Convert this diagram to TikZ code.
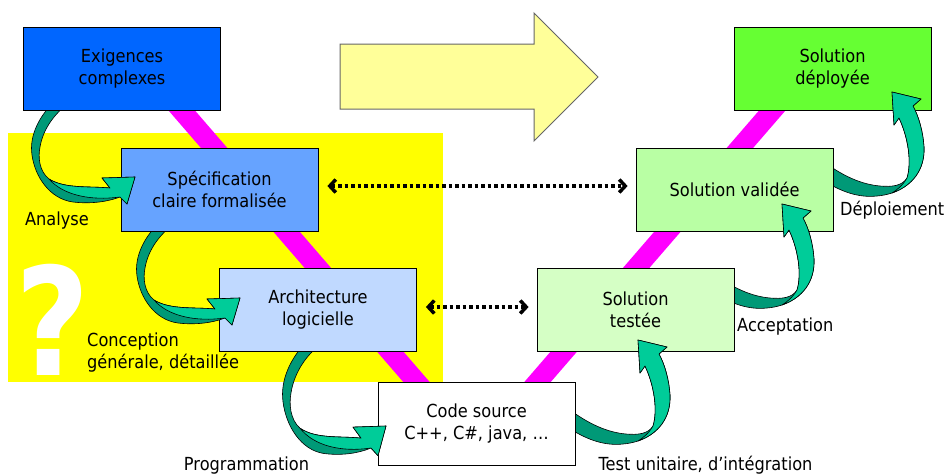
\documentclass[tikz,border=0pt]{standalone}
\usepackage{fontspec}
\setmainfont{DejaVu Sans}[FakeStretch=0.9]
\usetikzlibrary{arrows.meta}
\definecolor{cExig}{RGB}{0,102,255}
\definecolor{cSpec}{RGB}{102,163,255}
\definecolor{cArch}{RGB}{192,217,255}
\definecolor{cTest}{RGB}{213,255,197}
\definecolor{cValid}{RGB}{185,255,164}
\definecolor{cDepl}{RGB}{102,255,51}
\definecolor{cYel}{RGB}{255,255,0}
\definecolor{cBigArr}{RGB}{255,255,153}
\definecolor{cMag}{RGB}{255,0,255}
\definecolor{rDark}{RGB}{0,153,119}
\definecolor{rLight}{RGB}{0,204,153}
\tikzset{
  box/.style={draw=black, line width=0.8pt, minimum width=197pt, minimum height=83pt,
    inner sep=0pt, align=center, font=\fontsize{18}{22}\selectfont},
  lbl/.style={inner sep=0pt, font=\fontsize{18}{22}\selectfont},
  ribbon/.style={draw=black, line width=0.6pt, line join=round},
  dotarrow/.style={line width=3.5pt, dash pattern=on 3.5pt off 3pt,
    {Straight Barb[length=6pt,width=13pt]}-{Straight Barb[length=6pt,width=13pt]},
    shorten <=9pt, shorten >=8pt},
}
% ribbon arrow coming down then turning right (tip at origin)
\newcommand\ribL[1]{%
  \begin{scope}[#1]
    \filldraw[fill=rDark, ribbon] (-80,-76)
      .. controls (-95,-62) and (-106,-42) .. (-103,-22)
      .. controls (-100,0) and (-85,22) .. (-62,25)
      .. controls (-45,27) and (-28,25) .. (-15,20)
      -- (-8,27) -- (0,0) -- (-33,1) -- (-25,11)
      .. controls (-45,9) and (-70,12) .. (-86,2)
      .. controls (-96,-6) and (-97,-20) .. (-95,-30)
      .. controls (-92,-48) and (-80,-65) .. (-63,-76) -- cycle;
    \filldraw[fill=rLight, ribbon] (-86,2)
      .. controls (-70,12) and (-45,9) .. (-25,11)
      -- (-33,1) -- (0,0) -- (-8,27) -- (-15,20)
      .. controls (-45,24) and (-72,18) .. (-86,2) -- cycle;
  \end{scope}}
% ribbon arrow going right, down then up (tip at origin)
\newcommand\ribR[1]{%
  \begin{scope}[#1]
    \filldraw[fill=rDark, ribbon] (-72,86)
      .. controls (-52,100) and (-33,106) .. (-15,104)
      .. controls (-10,103.6) and (-5,102.6) .. (0,101)
      .. controls (20,94) and (33,78) .. (32,55)
      .. controls (31,40) and (27,25) .. (21,14)
      -- (29,7) -- (0,0) -- (2,33) -- (7,26)
      .. controls (16,45) and (20,70) .. (15,86)
      .. controls (10,94) and (0,95) .. (-12,94)
      .. controls (-35,92) and (-55,80) .. (-72,67) -- cycle;
    \filldraw[fill=rLight, ribbon] (0,101)
      .. controls (20,94) and (33,78) .. (32,55)
      .. controls (31,40) and (27,25) .. (21,14)
      -- (29,7) -- (0,0) -- (2,33) -- (7,26)
      .. controls (16,45) and (20,70) .. (15,86)
      .. controls (11,93) and (5,98) .. (0,101) -- cycle;
  \end{scope}}
\begin{document}
\begin{tikzpicture}[x=1pt, y=-1pt]
  \useasboundingbox (0,0) rectangle (949,475);
  \fill[white] (0,0) rectangle (949,475);
  % yellow zone
  \fill[cYel] (8,133) rectangle (443,382);
  \node[font=\fontsize{150}{150}\selectfont\bfseries, text=white, anchor=base, inner sep=0pt] (qmark) at (53,375) {\scalebox{0.95}[1]{?}};
  % big yellow arrow
  \filldraw[fill=cBigArr, draw=black!60, line width=1pt]
    (340,44) -- (534,44) -- (534,13) -- (598,77) -- (534,141) -- (534,109) -- (340,109) -- cycle;
  % magenta V
  \coordinate (vL) at (145,68);
  \coordinate (vB) at (477,452);
  \coordinate (vR) at (809,68);
  \draw[cMag, line width=20pt, line join=bevel] (vL) -- (vB) -- (vR);
  % right branch (draw order matters)
  \node[box, fill=cDepl] (depl) at (832.5,68.5) {Solution\\déployée};
  \ribR{shift={(892,92)}}
  \node[box, fill=cValid] (valid) at (734.5,189.5) {Solution validée};
  \ribR{shift={(782,204)}}
  \node[box, fill=cTest] (test) at (635.5,310) {Solution\\testée};
  \ribR{shift={(638,340)}}
  \node[box, fill=white] (code) at (476.5,424) {Code source\\C++, C\#, java, …};
  \ribL{shift={(386,426)}, yscale=1.1}
  \node[box, fill=cArch] (arch) at (318,310) {Architecture\\logicielle};
  \ribL{shift={(240,298)}}
  \node[box, fill=cSpec] (spec) at (219.5,189.5) {Spécification\\claire formalisée};
  \ribL{shift={(135,177)}}
  \node[box, fill=cExig] (exig) at (122,68.5) {Exigences\\complexes};
  % dotted double arrows
  \draw[dotarrow] ([yshift=3.5pt]spec.east) -- ([yshift=3.5pt]valid.west);
  \draw[dotarrow] ([yshift=3pt]arch.east) -- ([yshift=3pt]test.west);
  % labels
  \node[lbl, anchor=base] (lanalyse) at (57,225) {Analyse};
  \node[lbl, anchor=base west] (lconc1) at (87,346) {Conception};
  \node[lbl, anchor=base west] (lconc2) at (87,368) {générale, détaillée};
  \node[lbl, anchor=base] (lprog) at (246.5,470) {Programmation};
  \node[lbl, anchor=base] (ltest) at (705.5,470) {Test unitaire, d’intégration};
  \node[lbl, anchor=base west] (lacc) at (737,331) {Acceptation};
  \node[lbl, anchor=base west] (ldepl) at (840,215) {Déploiement};
\end{tikzpicture}
\end{document}
